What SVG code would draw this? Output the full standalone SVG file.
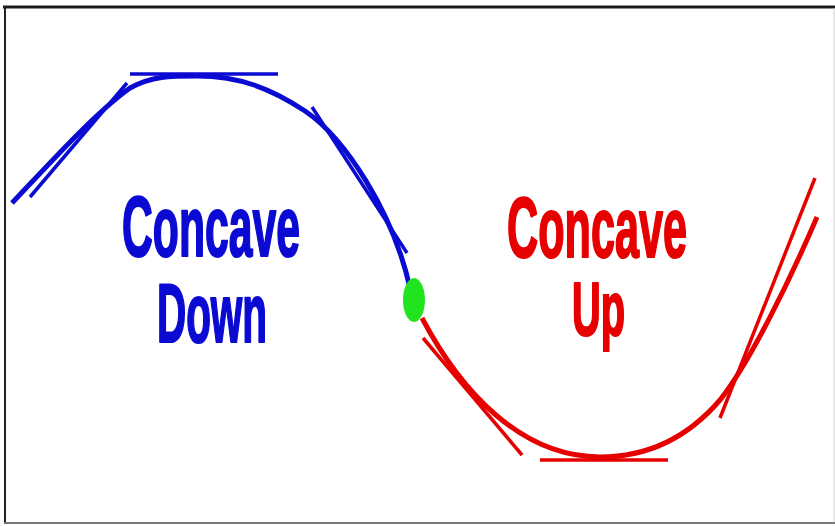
<svg xmlns="http://www.w3.org/2000/svg" width="835" height="526" viewBox="0 0 835 526">
<style>
.blue{stroke:#0a0ad2;fill:none;stroke-linecap:butt}
.red{stroke:#e60000;fill:none;stroke-linecap:butt}
.curve{stroke-width:5}
.tan{stroke-width:3.5}
.lbl{font-family:"Liberation Sans",Arial,sans-serif;font-weight:bold;stroke-width:2.2;stroke-linejoin:round}
.lb{fill:#0a0ad2;stroke:#0a0ad2}
.lr{fill:#e60000;stroke:#e60000}
</style>
<rect x="0" y="0" width="835" height="526" fill="#ffffff"/>
<g id="frame">
<line x1="3" y1="7" x2="835" y2="7" stroke="#1a1a1a" stroke-width="3"/>
<line x1="5" y1="6" x2="5" y2="524" stroke="#222222" stroke-width="2"/>
<line x1="4" y1="523" x2="835" y2="523" stroke="#777777" stroke-width="2"/>
<line x1="834" y1="8" x2="834" y2="522" stroke="#d0d0d0" stroke-width="1"/>
</g>
<g id="concave-down">
<path class="blue curve" d="M12,203 C50,163 95,113 130,88 C152,76 170,76 197,76 C240,76 272,89 305,111 C345,138 393,212 410,288"/>
<line class="blue tan" x1="30" y1="197" x2="127" y2="83"/>
<line class="blue tan" x1="130" y1="74" x2="278" y2="74" stroke-width="4"/>
<line class="blue tan" x1="312" y1="107" x2="407" y2="253"/>
</g>
<g id="concave-up">
<path class="red curve" d="M422,318 C460,390 520,457 600,457 C650,457 690,435 720,400 C750,362 790,280 817,217"/>
<line class="red tan" x1="423" y1="338" x2="522" y2="455"/>
<line class="red tan" x1="540" y1="460" x2="668" y2="460" stroke-width="4"/>
<line class="red tan" x1="720" y1="418" x2="815" y2="178"/>
</g>
<g id="inflection-point">
<ellipse cx="414" cy="300" rx="11" ry="22" fill="#22e41e"/>
</g>
<g id="label-down">
<text class="lbl lb" x="122" y="256" font-size="86" textLength="178" lengthAdjust="spacingAndGlyphs">Concave</text>
<text class="lbl lb" x="157" y="342" font-size="84" textLength="110" lengthAdjust="spacingAndGlyphs">Down</text>
</g>
<g id="label-up">
<text class="lbl lr" x="507" y="257" font-size="86" textLength="180" lengthAdjust="spacingAndGlyphs">Concave</text>
<text class="lbl lr" x="572" y="335" font-size="76" textLength="53" lengthAdjust="spacingAndGlyphs">Up</text>
</g>
</svg>
